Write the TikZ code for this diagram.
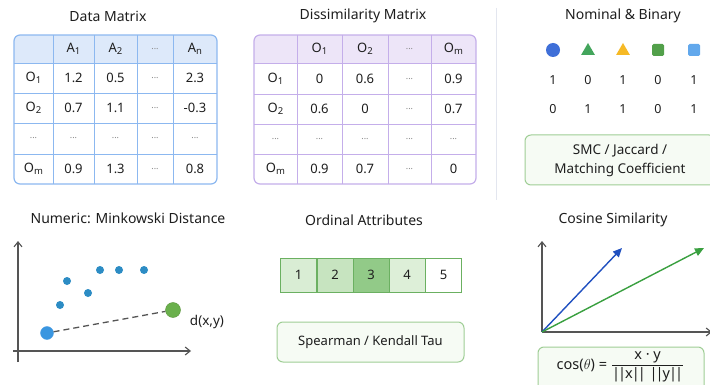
\documentclass[tikz,border=0pt]{standalone}
\usepackage{fontspec}
\setmainfont{Noto Sans}
\usetikzlibrary{arrows.meta,shapes.geometric}

\definecolor{ink}{HTML}{1E1E1E}
\definecolor{dotgray}{HTML}{8A8A8A}
\definecolor{blueline}{HTML}{8CB8F0}
\definecolor{bluehead}{HTML}{DDE9FA}
\definecolor{purpline}{HTML}{C4AEEA}
\definecolor{purphead}{HTML}{EDE5F8}
\definecolor{greenline}{HTML}{9FCE95}
\definecolor{greenfill}{HTML}{F6FBF4}
\definecolor{ordline}{HTML}{6BB061}
\definecolor{axisgray}{HTML}{555555}
\definecolor{scatter}{HTML}{2C8CC4}
\definecolor{sepgray}{HTML}{E3E6EF}

\newcommand\sub[1]{\raisebox{-0.25ex}{\fontsize{9.5}{10}\selectfont #1}}
\newcommand\el{\textcolor{dotgray}{\small ...}}
\newcommand\nrm[1]{|\kern-2pt|\kern-1pt#1\kern-1pt|\kern-2pt|}
% one row of table cells: prefix, row index, y, list of x/text
\newcommand\putrow[4]{%
  \foreach \xx/\cc [count=\c] in {#4}
    \node[cell] (#1-#2-\c) at (\xx,#3) {\cc};}

\tikzset{
  title/.style={font=\fontsize{14}{16}\selectfont, text=ink, inner sep=0pt},
  cell/.style={font=\fontsize{13}{15}\selectfont, text=ink, inner sep=0pt},
  binnum/.style={font=\fontsize{12.5}{14}\selectfont, text=ink, inner sep=0pt},
  greenbox/.style={draw=greenline, fill=greenfill, line width=1pt, rounded corners=6pt,
    font=\fontsize{13.5}{19}\selectfont, text=ink, align=center, inner sep=0pt},
  ordcell/.style={draw=ordline, line width=0.8pt, minimum width=36pt, minimum height=34pt,
    font=\fontsize{13}{15}\selectfont, text=ink, inner sep=0pt},
  axis/.style={draw=axisgray, line width=1.1pt, -{Straight Barb[length=5pt,width=8pt]}},
  dot/.style={circle, fill=scatter, minimum size=8pt, inner sep=0pt},
  vec/.style={line width=1.4pt, -{Triangle[length=9pt,width=8pt]}},
}

\begin{document}
\begin{tikzpicture}[x=1pt,y=-1pt]
\useasboundingbox (0,0) rectangle (710,385);
\clip (0,0) rectangle (710,385);
\fill[white] (0,0) rectangle (710,385);

% separator between the matrices and the binary panel
\draw[sepgray, line width=1pt] (496,8) -- (496,200);

% ---------------- Data matrix ----------------
\node[title] (dmtitle) at (108,16) {Data Matrix};
\begin{scope}
  \clip[rounded corners=6pt] (14,35) rectangle (217,184);
  \fill[bluehead] (14,35) rectangle (217,63);
\end{scope}
\foreach \x in {53,94,137,173} \draw[blueline, line width=0.8pt] (\x,35) -- (\x,184);
\foreach \y in {63,93,123,154} \draw[blueline, line width=0.8pt] (14,\y) -- (217,\y);
\draw[blueline, line width=1.2pt, rounded corners=6pt] (14,35) rectangle (217,184);
\putrow{dm}{0}{49}{73.5/{A\sub{1}}, 115.5/{A\sub{2}}, 155/\el, 195/{A\sub{n}}}
\putrow{dm}{1}{78}{33.5/{O\sub{1}}, 73.5/1.2, 115.5/0.5, 155/\el, 195/2.3}
\putrow{dm}{2}{108}{33.5/{O\sub{2}}, 73.5/0.7, 115.5/1.1, 155/\el, 195/-0.3}
\putrow{dm}{3}{138.5}{33.5/\el, 73.5/\el, 115.5/\el, 155/\el, 195/\el}
\putrow{dm}{4}{169}{33.5/{O\sub{m}}, 73.5/0.9, 115.5/1.3, 155/\el, 195/0.8}

% ---------------- Dissimilarity matrix ----------------
\node[title] (dstitle) at (363,16) {Dissimilarity Matrix};
\begin{scope}
  \clip[rounded corners=6pt] (254,35) rectangle (476,184);
  \fill[purphead] (254,35) rectangle (476,63);
\end{scope}
\foreach \x in {297,342,388,431} \draw[purpline, line width=0.8pt] (\x,35) -- (\x,184);
\foreach \y in {63,94,124,154} \draw[purpline, line width=0.8pt] (254,\y) -- (476,\y);
\draw[purpline, line width=1.2pt, rounded corners=6pt] (254,35) rectangle (476,184);
\putrow{ds}{0}{49}{319.5/{O\sub{1}}, 365/{O\sub{2}}, 409.5/\el, 453.5/{O\sub{m}}}
\putrow{ds}{1}{79}{275.5/{O\sub{1}}, 319.5/0, 365/0.6, 409.5/\el, 453.5/0.9}
\putrow{ds}{2}{109}{275.5/{O\sub{2}}, 319.5/0.6, 365/0, 409.5/\el, 453.5/0.7}
\putrow{ds}{3}{139}{275.5/\el, 319.5/\el, 365/\el, 409.5/\el, 453.5/\el}
\putrow{ds}{4}{169}{275.5/{O\sub{m}}, 319.5/0.9, 365/0.7, 409.5/\el, 453.5/0}

% ---------------- Nominal & binary ----------------
\node[title] (nbtitle) at (623,16) {Nominal \& Binary};
\node[circle, fill={rgb,255:red,63;green,111;blue,216}, minimum size=14pt, inner sep=0pt] (nb-s1) at (553,50) {};
\node[regular polygon, regular polygon sides=3, fill={rgb,255:red,67;green,165;blue,92}, minimum size=16pt, inner sep=0pt] (nb-s2) at (588,51) {};
\node[regular polygon, regular polygon sides=3, fill={rgb,255:red,246;green,185;blue,37}, minimum size=16pt, inner sep=0pt] (nb-s3) at (623,51) {};
\node[rectangle, rounded corners=1.5pt, fill={rgb,255:red,82;green,160;blue,74}, minimum size=12pt, inner sep=0pt] (nb-s4) at (658,50) {};
\node[rectangle, rounded corners=1.5pt, fill={rgb,255:red,98;green,168;blue,236}, minimum size=12pt, inner sep=0pt] (nb-s5) at (694,50) {};
\foreach \v/\x [count=\i] in {1/553, 0/588, 1/623, 0/658, 1/694}
  \node[binnum] (nb-a\i) at (\x,80) {\v};
\foreach \v/\x [count=\i] in {0/553, 1/588, 1/623, 0/658, 1/694}
  \node[binnum] (nb-b\i) at (\x,109) {\v};
\node[greenbox, minimum width=190pt, minimum height=50pt] (smc) at (620,160)
  {SMC / Jaccard /\\Matching Coefficient};

% ---------------- Numeric: Minkowski distance ----------------
\node[title] (mktitle) at (128,218) {Numeric: Minkowski Distance};
\coordinate (mk-y0) at (18,362);
\coordinate (mk-y1) at (18,241);
\coordinate (mk-x0) at (13,351);
\coordinate (mk-x1) at (191,351);
\draw[axis] (mk-y0) -- (mk-y1);
\draw[axis] (mk-x0) -- (mk-x1);
\foreach \x/\y [count=\i] in {100/270, 119/270, 144/270, 67/281, 88/293, 60/305}
  \node[dot] (mk-d\i) at (\x,\y) {};
\node[circle, fill={rgb,255:red,58;green,150;blue,224}, draw={rgb,255:red,80;green,160;blue,230}, minimum size=13pt, inner sep=0pt] (mk-p) at (47,333) {};
\node[circle, fill={rgb,255:red,106;green,176;blue,76}, draw={rgb,255:red,90;green,150;blue,60}, minimum size=15pt, inner sep=0pt] (mk-q) at (173,310) {};
\draw[axisgray, line width=1.3pt, dash pattern=on 6pt off 4pt] (mk-p) -- (mk-q);
\node[cell, font=\fontsize{13.5}{15}\selectfont] (mk-lbl) at (207,322) {d(x,y)};

% ---------------- Ordinal attributes ----------------
\node[title] (odtitle) at (364,220) {Ordinal Attributes};
\node[ordcell, fill={rgb,255:red,217;green,237;blue,212}] (od-1) at (298.5,275) {1};
\node[ordcell, fill={rgb,255:red,199;green,228;blue,192}] (od-2) at (335,275) {2};
\node[ordcell, fill={rgb,255:red,146;green,202;blue,136}] (od-3) at (371,275) {3};
\node[ordcell, fill={rgb,255:red,221;green,239;blue,216}] (od-4) at (407,275) {4};
\node[ordcell, fill=white] (od-5) at (443.5,275) {5};
\node[greenbox, minimum width=187pt, minimum height=40pt, font=\fontsize{13}{15}\selectfont] (sk) at (370.5,342)
  {Spearman / Kendall Tau};

% ---------------- Cosine similarity ----------------
\node[title] (cstitle) at (613,220) {Cosine Similarity};
\coordinate (cs-o) at (542,332);
\coordinate (cs-y) at (542,241);
\coordinate (cs-x) at (712,332);
\coordinate (cs-u) at (622,248);
\coordinate (cs-v) at (704,248);
\draw[axis] (cs-o) -- (cs-y);
\draw[axis] (cs-o) -- (cs-x);
\draw[vec, draw={rgb,255:red,32;green,80;blue,192}, fill={rgb,255:red,32;green,80;blue,192}] (cs-o) -- (cs-u);
\draw[vec, draw={rgb,255:red,58;green,160;blue,64}, fill={rgb,255:red,58;green,160;blue,64}] (cs-o) -- (cs-v);
\draw[greenline, fill=greenfill, line width=1pt, rounded corners=6pt] (538,347) rectangle (704,400);
\node[inner sep=0pt, text=ink, font=\fontsize{14.5}{16}\selectfont] (cs-f) at (620.5,367)
  {cos($\theta$) = ${\displaystyle\frac{\hbox{x · y}}{\hbox{\nrm{x}\kern4pt\nrm{y}}}}$};
\end{tikzpicture}
\end{document}
